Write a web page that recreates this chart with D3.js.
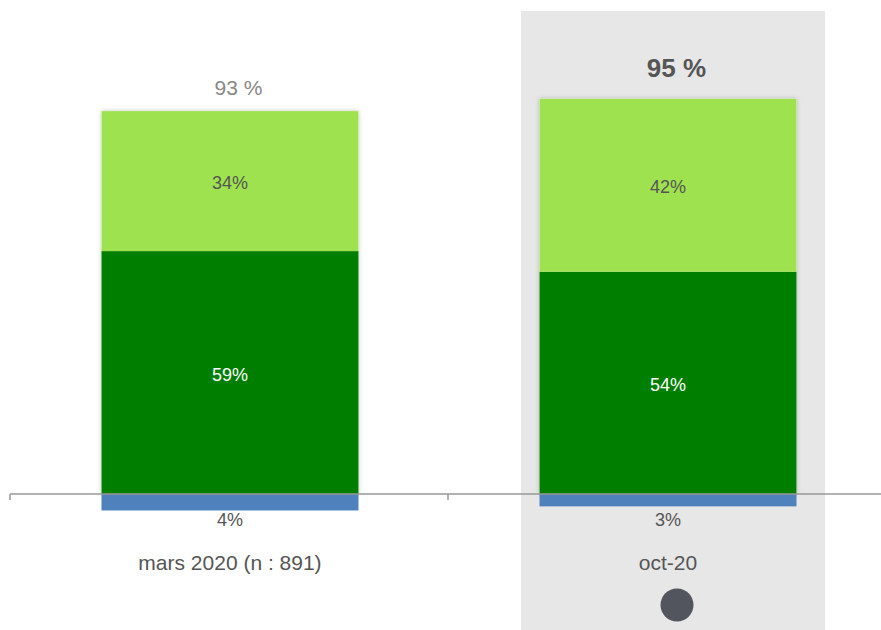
<!DOCTYPE html>
<html>
<head>
<meta charset="utf-8">
<script src="https://cdn.jsdelivr.net/npm/d3@7"></script>
<style>
  body { margin: 0; background: #fff; }
  text { font-family: "Liberation Sans", Arial, sans-serif; }
</style>
</head>
<body>
<div id="chart"></div>
<script>
// data
var categories = ['mars 2020 (n : 891)', 'oct-20'];
var tresSatisfaits = [59, 54];   // dark green, stacked first
var plutotSatisfaits = [34, 42]; // light green, on top
var pasSatisfaits = [4, 3];      // blue, below the axis
var totals = ['93 %', '95 %'];
var highlighted = 1;

var width = 881, height = 630;

var svg = d3.select('#chart').append('svg')
  .attr('width', width)
  .attr('height', height);

var defs = svg.append('defs');
var shadow = defs.append('filter').attr('id', 'shadow')
  .attr('x', '-5%').attr('y', '-5%').attr('width', '110%').attr('height', '110%');
shadow.append('feDropShadow')
  .attr('dx', 0).attr('dy', 0).attr('stdDeviation', 2)
  .attr('flood-color', '#000').attr('flood-opacity', 0.25);

var x = d3.scaleBand()
  .domain(categories)
  .range([10, 886])
  .paddingInner(0)
  .paddingOuter(0);

var y = d3.scaleLinear()
  .domain([0, 100])
  .range([494, 82.3]);

var barW = 257;
function mid(c) { return x(c) + x.bandwidth() / 2 + 1; }
function barX(c) { return mid(c) - barW / 2; }

// highlight panel behind the latest wave
svg.append('rect')
  .attr('x', 521)
  .attr('y', 11)
  .attr('width', 304)
  .attr('height', height - 11)
  .attr('fill', '#e7e7e7');

var rows = categories.map(function (c, i) {
  return { cat: c, dark: tresSatisfaits[i], light: plutotSatisfaits[i], neg: pasSatisfaits[i], total: totals[i], i: i };
});

var g = svg.selectAll('.bar').data(rows).enter().append('g').attr('class', 'bar');

g.append('rect')
  .attr('x', function (d) { return barX(d.cat); })
  .attr('y', function (d) { return y(d.dark + d.light); })
  .attr('width', barW)
  .attr('height', function (d) { return y(0) - y(d.dark + d.light); })
  .attr('fill', '#fff')
  .attr('filter', 'url(#shadow)');

g.append('rect')
  .attr('x', function (d) { return barX(d.cat); })
  .attr('y', function (d) { return y(d.dark); })
  .attr('width', barW)
  .attr('height', function (d) { return y(0) - y(d.dark); })
  .attr('fill', '#007e00');

g.append('rect')
  .attr('x', function (d) { return barX(d.cat); })
  .attr('y', function (d) { return y(d.dark + d.light); })
  .attr('width', barW)
  .attr('height', function (d) { return y(d.dark) - y(d.dark + d.light); })
  .attr('fill', '#9fe24f');

g.append('rect')
  .attr('x', function (d) { return barX(d.cat); })
  .attr('y', y(0))
  .attr('width', barW)
  .attr('height', function (d) { return y(-d.neg) - y(0); })
  .attr('fill', '#4f81bd');

// axis line with category boundary ticks
var axisG = svg.append('g').attr('transform', 'translate(0,' + y(0) + ')');
axisG.append('line')
  .attr('x1', 10).attr('x2', 881)
  .attr('stroke', '#999').attr('stroke-width', 1.5);
axisG.selectAll('.tk').data(categories).enter().append('line')
  .attr('x1', function (d) { return x(d); }).attr('x2', function (d) { return x(d); })
  .attr('y1', 0).attr('y2', 6)
  .attr('stroke', '#999').attr('stroke-width', 1.5);

// segment labels
g.append('text')
  .attr('x', function (d) { return mid(d.cat); })
  .attr('y', function (d) { return (y(d.dark) + y(d.dark + d.light)) / 2 + 8; })
  .attr('text-anchor', 'middle')
  .attr('font-size', 18)
  .attr('fill', '#555')
  .text(function (d) { return d.light + '%'; });

g.append('text')
  .attr('x', function (d) { return mid(d.cat); })
  .attr('y', function (d) { return (y(0) + y(d.dark)) / 2 + 8.5; })
  .attr('text-anchor', 'middle')
  .attr('font-size', 18)
  .attr('fill', '#fff')
  .text(function (d) { return d.dark + '%'; });

g.append('text')
  .attr('x', function (d) { return mid(d.cat); })
  .attr('y', 526)
  .attr('text-anchor', 'middle')
  .attr('font-size', 18)
  .attr('fill', '#555')
  .text(function (d) { return d.neg + '%'; });

// totals (sit slightly right of the bar centre, as in the source)
g.append('text')
  .attr('x', function (d) { return mid(d.cat) + 8.5; })
  .attr('y', function (d) { return d.i === highlighted ? 76.5 : 94.5; })
  .attr('text-anchor', 'middle')
  .attr('font-size', function (d) { return d.i === highlighted ? 26 : 21; })
  .attr('font-weight', function (d) { return d.i === highlighted ? 'bold' : 'normal'; })
  .attr('fill', function (d) { return d.i === highlighted ? '#555' : '#888'; })
  .text(function (d) { return d.total; });

// category labels
g.append('text')
  .attr('x', function (d) { return mid(d.cat); })
  .attr('y', 570)
  .attr('text-anchor', 'middle')
  .attr('font-size', 21)
  .attr('fill', '#555')
  .text(function (d) { return d.cat; });

// marker under the latest wave
svg.append('circle')
  .attr('cx', 677)
  .attr('cy', 605)
  .attr('r', 16.5)
  .attr('fill', '#53555e');
</script>
</body>
</html>
